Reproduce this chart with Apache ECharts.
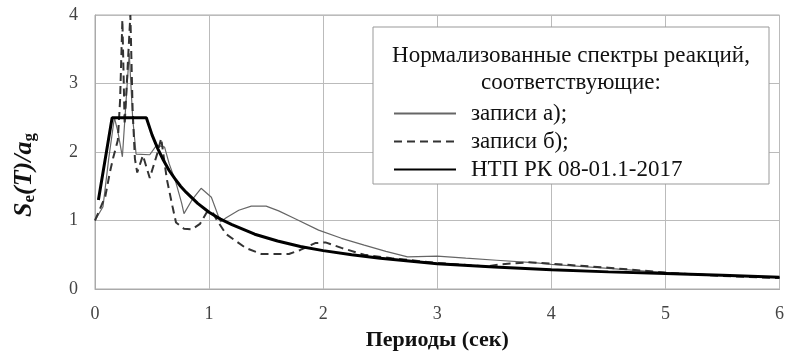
<!DOCTYPE html>
<html>
<head>
<meta charset="utf-8">
<script src="https://cdn.jsdelivr.net/npm/echarts@6/dist/echarts.min.js"></script>
<style>
html, body { margin: 0; padding: 0; background: #fff; }
#chart { width: 787px; height: 358px; }
</style>
</head>
<body>
<div id="chart"></div>
<script>
var myChart = echarts.init(document.getElementById('chart'));

// запись а) - тонкая сплошная
var recA = [[0,1.0],[0.07,1.2],[0.12,1.9],[0.17,2.5],[0.2,2.3],[0.24,1.93],[0.3,3.44],[0.33,2.5],[0.36,1.97],
    [0.48,1.96],[0.54,2.1],[0.61,2.07],[0.65,1.83],[0.71,1.55],[0.76,1.25],[0.78,1.1],[0.85,1.3],[0.93,1.47],
    [1.02,1.34],[1.1,0.98],[1.15,1.04],[1.26,1.15],[1.37,1.21],[1.5,1.21],[1.61,1.14],[1.75,1.03],[1.96,0.86],
    [2.16,0.74],[2.36,0.64],[2.55,0.55],[2.74,0.47],[3.0,0.48],[3.25,0.45],[3.52,0.42],[3.87,0.38],[4.0,0.36],
    [4.5,0.3],[5.0,0.24],[5.5,0.2],[6.0,0.17]];
// запись б) - пунктир
var recB = [[0,1.0],[0.09,1.35],[0.13,1.7],[0.16,1.92],[0.2,2.17],[0.22,2.76],[0.24,3.93],[0.26,2.4],[0.31,4.0],
    [0.33,2.6],[0.35,1.9],[0.37,1.7],[0.42,1.95],[0.48,1.62],[0.55,2.0],[0.58,2.2],[0.63,1.6],[0.68,1.2],
    [0.71,0.97],[0.78,0.88],[0.85,0.87],[0.92,0.95],[0.98,1.12],[1.03,1.12],[1.07,1.0],[1.15,0.8],[1.32,0.6],
    [1.46,0.51],[1.7,0.51],[1.8,0.57],[1.93,0.67],[2.02,0.68],[2.16,0.6],[2.36,0.5],[2.6,0.45],[3.0,0.38],
    [3.43,0.33],[3.55,0.36],[3.8,0.39],[4.0,0.37],[4.5,0.31],[5.0,0.24],[5.5,0.19],[6.0,0.16]];
// НТП РК 08-01.1-2017
var ntp = [[0.03,1.3],[0.15,2.5],[0.45,2.5],[0.5,2.25],[0.55,2.05],[0.6,1.88],[0.65,1.73],[0.7,1.61],[0.75,1.5],
    [0.8,1.41],[0.9,1.25],[1.0,1.12],[1.1,1.02],[1.2,0.94],[1.4,0.8],[1.6,0.7],[1.8,0.62],[2.0,0.56],[2.25,0.5],
    [2.5,0.45],[2.75,0.41],[3.0,0.37],[3.5,0.32],[4.0,0.28],[4.5,0.25],[5.0,0.225],[5.5,0.2],[6.0,0.17]];

var names = ['записи а);', 'записи б);', 'НТП РК 08-01.1-2017'];
var serif = 'Liberation Serif';

myChart.setOption({
    backgroundColor: '#fff',
    animation: false,
    grid: {
        left: 95, right: 2, top: 15, bottom: 69,
        show: true,
        borderColor: '#aaa',
        borderWidth: 1
    },
    legend: {
        data: names,
        orient: 'vertical',
        left: 388,
        top: 97,
        itemWidth: 62,
        itemHeight: 14,
        itemGap: 5,
        z: 20,
        itemStyle: { opacity: 0 },
        textStyle: { fontFamily: serif, fontSize: 23, color: '#111', lineHeight: 23, padding: [0, 0, 0, 10] }
    },
    graphic: [
        {
            type: 'rect', z: 10,
            shape: { x: 373, y: 27, width: 396, height: 157 },
            style: { fill: '#fff', stroke: '#999', lineWidth: 1 }
        },
        {
            type: 'text', z: 20, x: 571, y: 56,
            style: { text: 'Нормализованные спектры реакций,', fontFamily: serif, fontSize: 23,
                fill: '#111', align: 'center', verticalAlign: 'middle' }
        },
        {
            type: 'text', z: 20, x: 571, y: 83,
            style: { text: 'соответствующие:', fontFamily: serif, fontSize: 23,
                fill: '#111', align: 'center', verticalAlign: 'middle' }
        },
        {
            type: 'text', z: 20, x: 24, y: 175, rotation: Math.PI / 2,
            style: {
                text: '{i|S}{s|e}{i|(T)/a}{s|g}',
                align: 'center', verticalAlign: 'middle',
                rich: {
                    i: { fontFamily: serif, fontSize: 26, fontWeight: 'bold', fontStyle: 'italic', fill: '#111' },
                    s: { fontFamily: serif, fontSize: 17, fontWeight: 'bold', fill: '#111', padding: [12, 0, 0, 0] }
                }
            }
        }
    ],
    xAxis: {
        type: 'value',
        min: 0, max: 6, interval: 1,
        name: 'Периоды (сек)',
        nameLocation: 'middle',
        nameGap: 40,
        nameTextStyle: { fontFamily: serif, fontSize: 22, fontWeight: 'bold', color: '#111' },
        axisLine: { lineStyle: { color: '#aaa', width: 1 } },
        axisTick: { show: false },
        axisLabel: { margin: 16, fontFamily: serif, fontSize: 18, color: '#444' },
        splitLine: { lineStyle: { color: '#bbb', width: 1 } }
    },
    yAxis: {
        type: 'value',
        min: 0, max: 4, interval: 1,
        axisLine: { show: true, lineStyle: { color: '#aaa', width: 1 } },
        axisTick: { show: false },
        axisLabel: { margin: 17, fontFamily: serif, fontSize: 18, color: '#444' },
        splitLine: { lineStyle: { color: '#bbb', width: 1 } }
    },
    series: [
        {
            name: names[0], type: 'line', data: recA, symbol: 'none',
            lineStyle: { color: '#666', width: 1.2 }, itemStyle: { color: '#666' }
        },
        {
            name: names[1], type: 'line', data: recB, symbol: 'none',
            lineStyle: { color: '#333', width: 2, type: [8, 5] }, itemStyle: { color: '#333' }
        },
        {
            name: names[2], type: 'line', data: ntp, symbol: 'none',
            lineStyle: { color: '#000', width: 3 }, itemStyle: { color: '#000' }
        }
    ]
});
</script>
</body>
</html>
